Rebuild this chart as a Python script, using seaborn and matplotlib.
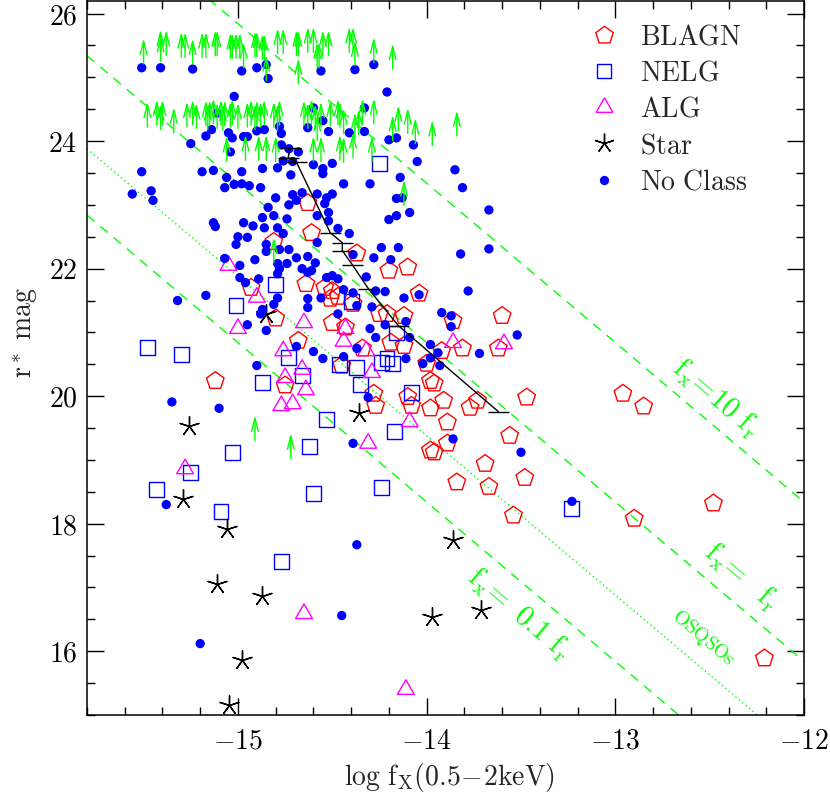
import numpy as np
import pandas as pd
import matplotlib
matplotlib.use("Agg")
import matplotlib.pyplot as plt
import seaborn as sns
from matplotlib.lines import Line2D
from matplotlib.ticker import MultipleLocator, FixedLocator, FuncFormatter

sns.set_style("ticks")
plt.rcParams['mathtext.fontset'] = 'cm'
plt.rcParams['font.family'] = ['DejaVu Serif']

# ---------------- data ----------------
blagn_x = [-14.63, -14.61, -14.81, -14.37, -14.20, -14.10, -14.64, -14.93, -14.54, -14.50,
           -14.47, -14.51, -14.04, -14.39, -14.80, -14.68, -14.50, -14.43, -14.21, -14.12,
           -13.86, -13.60, -14.34, -14.45, -14.19, -14.12, -13.92, -13.81, -13.62, -14.00,
           -13.98, -13.96, -14.28, -14.27, -14.10, -14.08, -13.98, -13.91, -13.77, -13.73,
           -13.47, -13.89, -13.56, -13.89, -13.98, -13.96, -13.69, -13.84, -13.67, -13.48,
           -13.54, -12.96, -12.85, -12.90, -12.48, -12.21, -15.12, -14.75, -14.25]
blagn_y = [23.03, 22.56, 22.42, 22.24, 21.97, 22.02, 21.76, 21.70, 21.70, 21.65,
           21.56, 21.53, 21.61, 21.45, 21.22, 20.87, 21.15, 21.08, 21.29, 21.26,
           21.18, 21.26, 20.75, 20.48, 20.84, 20.79, 20.71, 20.75, 20.75, 20.51,
           20.24, 20.20, 20.04, 19.85, 19.99, 19.85, 19.81, 19.93, 19.82, 19.93,
           19.98, 19.59, 19.38, 19.26, 19.15, 19.12, 18.94, 18.65, 18.58, 18.72,
           18.13, 20.04, 19.84, 18.08, 18.32, 15.89, 20.24, 20.17, 21.29]

nelg_x = [-14.25, -14.80, -15.01, -15.48, -15.30, -14.73, -14.66, -14.87, -14.40, -14.16,
          -14.21, -14.18, -14.24, -14.46, -14.37, -14.35, -14.08, -14.53, -14.17, -14.62,
          -15.03, -15.25, -15.43, -15.09, -14.60, -14.24, -14.77, -13.23]
nelg_y = [23.65, 21.75, 21.42, 20.76, 20.65, 20.60, 20.32, 20.21, 21.48, 20.99,
          20.59, 20.51, 20.53, 20.49, 20.45, 20.18, 20.06, 19.63, 19.44, 19.21,
          19.12, 18.80, 18.54, 18.19, 18.47, 18.57, 17.41, 18.24]

alg_x = [-15.05, -14.90, -15.00, -14.65, -14.43, -14.44, -14.76, -14.32, -14.66, -14.75,
         -14.64, -14.77, -14.71, -14.29, -13.86, -13.59, -14.09, -14.31, -15.28, -14.65,
         -14.11]
alg_y = [22.05, 21.55, 21.06, 21.15, 21.06, 20.86, 20.71, 20.71, 20.42, 20.29,
         20.10, 19.85, 19.88, 20.37, 20.84, 20.82, 19.60, 19.26, 18.86, 16.59,
         15.40]

star_x = [-15.26, -15.29, -15.06, -15.11, -14.87, -14.98, -15.05, -14.36, -13.86, -13.97,
          -13.71, -14.85]
star_y = [19.54, 18.39, 17.92, 17.06, 16.87, 15.86, 15.15, 19.73, 17.74, 16.54,
          16.64, 21.29]

nc_x = [-15.51, -15.41, -15.24, -14.98, -14.90, -14.85, -14.84, -14.56, -14.38, -14.28,
        -14.21, -15.02, -14.60, -14.33, -14.55, -14.63, -14.52, -14.41, -14.33, -14.20,
        -14.16, -14.07, -14.05, -15.11, -15.14, -15.17, -15.05, -15.03, -14.97, -14.95,
        -14.90, -14.86, -14.78, -14.77, -15.25, -15.04, -14.77, -14.73, -14.68, -14.60,
        -14.55, -14.50, -14.76, -14.71, -14.79, -14.87, -14.98, -15.13, -15.19, -15.51,
        -14.72, -15.06, -14.55, -13.85, -14.44, -14.30, -14.14, -15.46, -15.56, -15.45,
        -15.07, -15.02, -14.98, -14.94, -14.88, -14.80, -14.71, -14.66, -14.69, -14.73,
        -14.58, -14.53, -14.50, -14.54, -14.16, -14.13, -13.81, -13.67, -14.52, -14.58,
        -14.52, -14.47, -14.41, -14.09, -14.20, -14.16, -15.13, -15.12, -14.97, -14.92,
        -14.87, -14.81, -14.74, -14.84, -14.86, -14.79, -15.00, -14.95, -15.01, -14.76,
        -14.85, -14.85, -14.78, -14.73, -14.58, -14.69, -14.63, -14.59, -14.91, -15.07,
        -14.99, -14.79, -14.74, -14.78, -14.66, -14.63, -14.61, -14.99, -14.89, -14.96,
        -14.79, -14.53, -14.50, -14.47, -14.39, -14.28, -14.24, -14.15, -14.19, -13.82,
        -13.67, -14.32, -14.27, -14.44, -14.39, -14.79, -15.17, -15.32, -14.22, -14.12,
        -14.04, -13.78, -14.81, -14.87, -14.88, -14.63, -14.63, -14.56, -14.37, -14.29,
        -14.47, -14.95, -14.85, -14.30, -14.27, -14.22, -14.69, -14.60, -14.55, -14.44,
        -14.37, -14.90, -15.10, -14.31, -14.39, -13.92, -13.87, -13.87, -14.11, -14.09,
        -13.52, -13.98, -13.94, -13.98, -14.02, -13.93, -14.11, -13.72, -13.86, -13.50,
        -15.35, -15.38, -14.37, -14.45, -15.20, -13.23]
nc_y = [25.15, 25.15, 25.13, 25.10, 25.15, 25.20, 24.98, 25.10, 25.12, 25.20,
        24.77, 24.70, 24.52, 24.52, 24.32, 24.21, 24.15, 24.13, 24.15, 24.02,
        24.05, 23.94, 23.68, 24.44, 24.18, 24.08, 24.13, 24.05, 24.07, 24.07,
        24.16, 24.18, 24.23, 24.12, 23.96, 23.83, 23.94, 23.88, 23.83, 23.63,
        23.57, 23.65, 23.69, 23.68, 23.58, 23.57, 23.52, 23.54, 23.52, 23.52,
        23.47, 23.43, 23.49, 23.55, 23.33, 23.33, 23.43, 23.22, 23.17, 23.07,
        23.27, 23.32, 23.33, 23.30, 23.27, 23.11, 23.16, 23.19, 23.07, 23.00,
        23.17, 23.11, 23.17, 23.02, 23.10, 23.11, 23.27, 22.92, 22.88, 22.83,
        22.75, 22.63, 22.55, 22.88, 22.77, 22.83, 22.72, 22.66, 22.72, 22.67,
        22.80, 22.83, 22.78, 22.96, 22.64, 22.64, 22.50, 22.49, 22.38, 22.55,
        22.38, 22.27, 22.30, 22.30, 22.41, 22.17, 22.19, 22.09, 22.14, 22.16,
        22.05, 22.08, 22.08, 22.00, 22.00, 21.94, 21.97, 21.86, 21.84, 21.78,
        21.92, 21.86, 21.89, 21.84, 22.22, 22.17, 22.33, 22.33, 22.14, 22.23,
        22.31, 21.87, 21.65, 21.67, 21.62, 21.54, 21.58, 21.50, 21.64, 21.54,
        21.59, 21.65, 21.44, 21.36, 21.29, 21.53, 21.39, 21.54, 21.42, 21.40,
        21.29, 21.12, 21.03, 21.06, 20.92, 21.12, 20.78, 20.70, 20.59, 20.62,
        20.75, 20.48, 19.81, 19.98, 19.26, 21.31, 21.26, 21.09, 21.17, 20.92,
        20.96, 20.81, 20.68, 20.60, 20.51, 20.48, 20.59, 20.67, 19.33, 19.12,
        19.91, 18.30, 17.67, 16.56, 16.12, 18.35]

# lower limits (upward arrows): base position of each arrow
lim_x = [-15.50, -15.41, -15.41, -15.38, -15.30, -15.28, -15.24, -15.19, -15.17, -15.12,
         -15.11, -15.04, -15.03, -15.01, -14.99, -14.97, -14.91, -14.90, -14.87, -14.86,
         -14.85, -14.79, -14.76, -14.69, -14.68, -14.68, -14.63, -14.60, -14.58, -14.57,
         -14.55, -14.52, -14.41, -14.39, -14.38, -14.28, -14.18,
         -15.48, -15.43, -15.41, -15.40, -15.34, -15.27, -15.24, -15.22, -15.17, -15.16,
         -15.15, -15.13, -15.11, -15.09, -15.08, -15.07, -15.04, -15.03, -15.00, -14.95,
         -14.93, -14.91, -14.90, -14.88, -14.86, -14.81, -14.79, -14.78, -14.65, -14.63,
         -14.61, -14.59, -14.56, -14.51, -14.47, -14.46, -14.44, -14.38, -14.36, -14.34,
         -14.28, -14.18, -14.15, -14.10, -14.06, -13.97, -13.84,
         -15.06, -14.96, -14.89, -14.85, -14.80, -14.60, -14.56, -14.58, -14.46, -14.44,
         -14.39, -14.29,
         -14.12, -14.81, -14.91, -14.72]
lim_y = [25.21, 25.25, 25.35, 25.34, 25.31, 25.31, 25.21, 25.31, 25.31, 25.34,
         25.34, 25.30, 25.30, 25.30, 25.30, 25.15, 25.32, 25.32, 25.28, 25.28,
         24.95, 25.37, 25.37, 25.34, 25.34, 24.90, 25.39, 25.39, 25.15, 25.15,
         25.34, 25.34, 25.39, 25.39, 25.18, 25.23, 25.13,
         24.22, 24.25, 24.18, 24.25, 24.13, 24.22, 24.25, 24.20, 24.24, 24.18,
         24.24, 24.27, 24.20, 24.25, 24.17, 24.24, 24.22, 24.26, 24.20, 24.22,
         24.25, 24.18, 24.24, 24.22, 24.25, 24.22, 24.18, 24.25, 24.24, 24.20,
         24.26, 24.18, 24.22, 24.24, 24.26, 24.22, 24.12, 24.05, 24.10, 24.27,
         24.27, 24.01, 24.16, 24.12, 23.96, 23.93, 24.08,
         23.68, 23.70, 23.70, 23.70, 23.68, 23.68, 23.68, 24.01, 23.70, 23.67,
         23.74, 23.68,
         22.99, 22.09, 19.30, 19.02]

# median track with horizontal error bars
track_x = [-14.723, -14.734, -14.691, -14.511, -14.447, -14.447, -14.394, -14.309, -14.150, -13.620]
track_y = [23.896, 23.739, 23.676, 22.564, 22.407, 22.282, 22.062, 21.686, 21.106, 19.758]
track_xerr = [0.055, 0.055, 0.055, 0.055, 0.055, 0.055, 0.055, 0.055, 0.055, 0.055]

# constant f_x/f_r lines: r = -2.5 log f_x + offset
ratio_offsets = [-11.66, -14.16, -16.66]
osqso_offset = -15.62

class_labels = ['BLAGN', 'NELG', 'ALG', 'Star', 'No Class']

# ---------------- figure ----------------
fig = plt.figure(figsize=(8.3, 7.95), dpi=100)
ax = fig.add_axes([0.1048, 0.1006, 0.8639, 0.8984])

xline = np.array([-15.8, -12.0])
for c in ratio_offsets:
    ax.plot(xline, -2.5 * xline + c, color='#00ff00', lw=1.0, ls=(0, (7, 5.5)), zorder=1)
ax.plot(xline, -2.5 * xline + osqso_offset, color='#00ff00', lw=1.0, ls=(0, (1, 2.2)), zorder=1)

RED, BLUE, MAG, GRN = '#ff0000', '#0000ff', '#ff00ff', '#00ff00'
pent, tri, ast = (5, 0, 0), (3, 0, 0), (5, 2, 0)
S_PENT, S_SQ, S_TRI, S_AST, S_DOT = 175, 115, 195, 200, 45

df_b = pd.DataFrame({'x': blagn_x, 'y': blagn_y})
df_n = pd.DataFrame({'x': nelg_x, 'y': nelg_y})
df_a = pd.DataFrame({'x': alg_x, 'y': alg_y})
df_s = pd.DataFrame({'x': star_x, 'y': star_y})
df_c = pd.DataFrame({'x': nc_x, 'y': nc_y})

sns.scatterplot(data=df_b, x='x', y='y', marker=pent, s=S_PENT, facecolor='none',
                edgecolor=RED, linewidth=1.0, ax=ax, zorder=3, legend=False)
sns.scatterplot(data=df_n, x='x', y='y', marker='s', s=S_SQ, facecolor='none',
                edgecolor=BLUE, linewidth=1.0, ax=ax, zorder=3, legend=False)
sns.scatterplot(data=df_a, x='x', y='y', marker=tri, s=S_TRI, facecolor='none',
                edgecolor=MAG, linewidth=1.0, ax=ax, zorder=3, legend=False)
sns.scatterplot(data=df_s, x='x', y='y', marker=ast, s=S_AST, color='black',
                linewidth=1.0, ax=ax, zorder=3, legend=False)
sns.scatterplot(data=df_c, x='x', y='y', marker='o', s=S_DOT, facecolor=BLUE,
                edgecolor='none', linewidth=0, ax=ax, zorder=4, legend=False)

ax.errorbar(track_x, track_y, xerr=track_xerr, color='black', lw=1.0, elinewidth=1.0,
            capsize=0, zorder=5)

arrow_len = 0.40
for xv, yv in zip(lim_x, lim_y):
    ax.annotate('', xy=(xv, yv + arrow_len), xytext=(xv, yv), xycoords='data',
                arrowprops=dict(arrowstyle='->,head_length=0.95,head_width=0.24',
                                color=GRN, lw=1.0, shrinkA=0, shrinkB=0), zorder=6)

# labels of the diagonal lines
rot = -40.2
ax.text(-12.468, 19.96, r'$\mathrm{f_x\!=\!10\ f_r}$', color=GRN, fontsize=21,
        rotation=rot, ha='center', va='center', rotation_mode='anchor')
ax.text(-12.330, 17.16, r'$\mathrm{f_x\!=\ \ f_r}$', color=GRN, fontsize=21,
        rotation=rot, ha='center', va='center', rotation_mode='anchor')
ax.text(-13.513, 16.58, r'$\mathrm{f_x\!=\ 0.1\ f_r}$', color=GRN, fontsize=21,
        rotation=rot, ha='center', va='center', rotation_mode='anchor')
ax.text(-12.537, 16.20, r'$\mathrm{OSQSOs}$', color=GRN, fontsize=14,
        rotation=rot, ha='center', va='center', rotation_mode='anchor')

# axes
ax.set_xlim(-15.8, -12.0)
ax.set_ylim(15.0, 26.2)
ax.xaxis.set_major_locator(FixedLocator([-15, -14, -13, -12]))
ax.xaxis.set_minor_locator(MultipleLocator(0.2))
ax.yaxis.set_major_locator(FixedLocator([16, 18, 20, 22, 24, 26]))
ax.yaxis.set_minor_locator(MultipleLocator(0.5))
fmt = FuncFormatter(lambda v, p: r'$%d$' % int(round(v)))
ax.xaxis.set_major_formatter(fmt)
ax.yaxis.set_major_formatter(fmt)
ax.tick_params(which='both', direction='in', top=True, right=True, colors='black', width=1.0)
ax.tick_params(which='major', length=12, labelsize=20)
ax.tick_params(which='minor', length=6)
ax.tick_params(axis='x', which='major', pad=9)
ax.tick_params(axis='y', which='major', pad=7)
for sp in ax.spines.values():
    sp.set_color('black')
    sp.set_linewidth(1.1)
    sp.set_visible(True)

ax.set_xlabel(r'$\mathrm{log\ f_X(0.5\!-\!2keV)}$', fontsize=20)
ax.set_ylabel(r'$\mathrm{r^*\ mag}$', fontsize=20)
ax.xaxis.set_label_coords(0.506, -0.065)
ax.yaxis.set_label_coords(-0.066, 0.536)

handles = [
    Line2D([], [], ls='none', marker=pent, ms=np.sqrt(S_PENT), mfc='none', mec=RED, mew=1.0),
    Line2D([], [], ls='none', marker='s', ms=np.sqrt(S_SQ), mfc='none', mec=BLUE, mew=1.0),
    Line2D([], [], ls='none', marker=tri, ms=np.sqrt(S_TRI), mfc='none', mec=MAG, mew=1.0),
    Line2D([], [], ls='none', marker=ast, ms=np.sqrt(S_AST), color='black', mew=1.0),
    Line2D([], [], ls='none', marker='o', ms=np.sqrt(S_DOT), mfc=BLUE, mec='none'),
]
labels = [r'$\mathrm{%s}$' % l.replace(' ', r'\ ') for l in class_labels]
ax.legend(handles, labels, loc='upper left', bbox_to_anchor=(0.7015, 0.968),
          frameon=False, fontsize=20, handlelength=1.0, handletextpad=0.80,
          labelspacing=0.33, borderpad=0, borderaxespad=0)

fig.savefig('out.png', dpi=100)
